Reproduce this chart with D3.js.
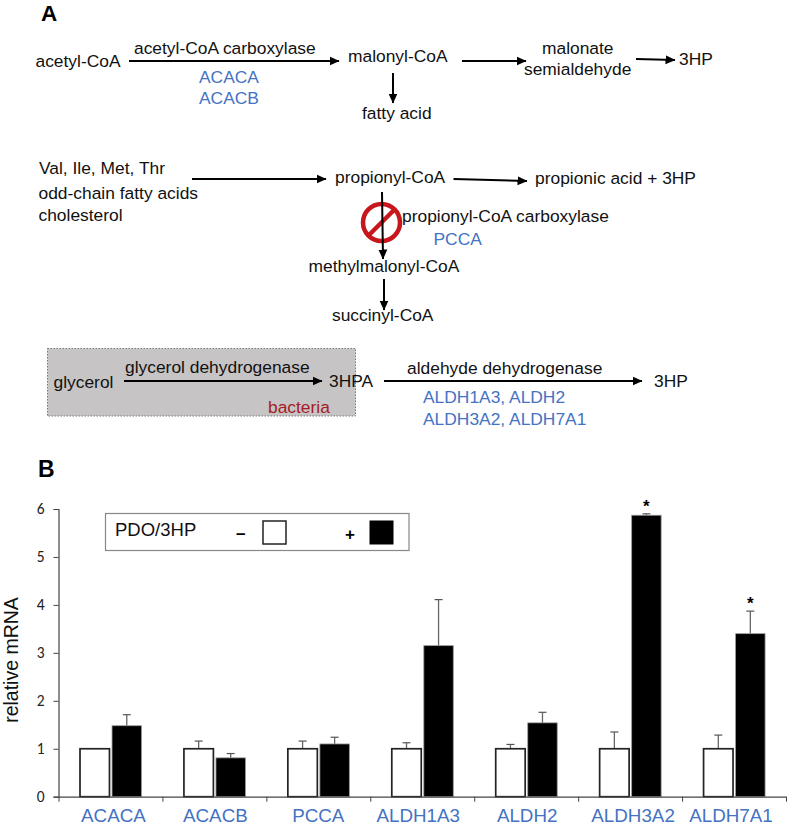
<!DOCTYPE html>
<html>
<head>
<meta charset="utf-8">
<script src="https://cdn.jsdelivr.net/npm/d3@7"></script>
<style>
body { margin: 0; background: #fff; }
svg { display: block; }
text { font-family: "Liberation Sans", Arial, sans-serif; }
</style>
</head>
<body>
<svg id="canvas" width="787" height="826"></svg>
<script>
const GENES = ["ACACA", "ACACB", "PCCA", "ALDH1A3", "ALDH2", "ALDH3A2", "ALDH7A1"];
const CONTROL = [1, 1, 1, 1, 1, 1, 1];
const CONTROL_ERR = [1, 1.16, 1.16, 1.125, 1.09, 1.35, 1.285];
const TREATED = [1.48, 0.81, 1.1, 3.15, 1.54, 5.87, 3.4];
const TREATED_ERR = [1.71, 0.9, 1.24, 4.11, 1.76, 5.9, 3.87];
const STARRED = ["ALDH3A2", "ALDH7A1"];
const Y_TICKS = [0, 1, 2, 3, 4, 5, 6];

const BLUE = "#4472c4";
const svg = d3.select("#canvas");

svg.append("defs").append("marker")
    .attr("id", "head")
    .attr("markerUnits", "userSpaceOnUse")
    .attr("viewBox", "0 0 10 10")
    .attr("refX", 9.5)
    .attr("refY", 5)
    .attr("markerWidth", 10)
    .attr("markerHeight", 10)
    .attr("orient", "auto")
  .append("path")
    .attr("d", "M0,0.5L10,5L0,9.5Z")
    .attr("fill", "#000");

function label(x, y, str, color, size) {
    return svg.append("text")
        .attr("x", x)
        .attr("y", y)
        .attr("fill", color || "#111")
        .attr("font-size", size || 17.4)
        .text(str);
}

function arrow(x1, y1, x2, y2) {
    svg.append("line")
        .attr("x1", x1).attr("y1", y1)
        .attr("x2", x2).attr("y2", y2)
        .attr("stroke", "#000")
        .attr("stroke-width", 2)
        .attr("marker-end", "url(#head)");
}

// panel A, the box goes first so the labels sit on it
svg.append("rect")
    .attr("x", 47.5).attr("y", 348.5)
    .attr("width", 308).attr("height", 67.5)
    .attr("fill", "#c6c4c5")
    .attr("stroke", "#777")
    .attr("stroke-dasharray", "1.5 1.5");

label(41, 20.5, "A", "#000", 22.5).attr("font-weight", "bold");
label(38, 477, "B", "#000", 23).attr("font-weight", "bold");

label(35.5, 67, "acetyl-CoA");
label(134, 54, "acetyl-CoA carboxylase");
label(199, 83, "ACACA", BLUE);
label(199, 104, "ACACB", BLUE);
label(348, 62, "malonyl-CoA");
label(362, 119, "fatty acid");
label(542, 54, "malonate");
label(524, 75, "semialdehyde");
label(679, 65, "3HP");

label(39, 174, "Val, Ile, Met, Thr");
label(38.5, 199, "odd-chain fatty acids");
label(38.5, 221, "cholesterol");
label(335, 183, "propionyl-CoA");
label(535, 184, "propionic acid + 3HP");
label(402, 222, "propionyl-CoA carboxylase");
label(433.5, 245, "PCCA", BLUE);
label(308.5, 272, "methylmalonyl-CoA");
label(332, 321, "succinyl-CoA");

label(53.5, 388, "glycerol");
label(125, 373, "glycerol dehydrogenase");
label(329, 387, "3HPA");
label(268, 413, "bacteria", "#a51c24");
label(407, 374, "aldehyde dehydrogenase");
label(654, 387, "3HP");
label(423, 403, "ALDH1A3, ALDH2", BLUE);
label(423, 425, "ALDH3A2, ALDH7A1", BLUE);

// no-entry sign sits under the arrow
svg.append("circle")
    .attr("cx", 381.5).attr("cy", 222.5)
    .attr("r", 18.5)
    .attr("fill", "none")
    .attr("stroke", "#c8161d")
    .attr("stroke-width", 4.5);
svg.append("line")
    .attr("x1", 368.5).attr("y1", 235.5)
    .attr("x2", 394.5).attr("y2", 209.5)
    .attr("stroke", "#c8161d")
    .attr("stroke-width", 4.5);

arrow(129, 61, 339, 61);
arrow(393, 73, 393, 103);
arrow(462, 61, 526, 61);
arrow(636, 59, 675, 60);
arrow(192, 179, 326, 179);
arrow(453.5, 179, 527, 181);
arrow(382, 192, 383, 259);
arrow(384, 279, 384, 310);
arrow(124, 381, 322, 381);
arrow(384, 381, 642, 381);

// panel B
const scaleY = d3.scaleLinear()
    .domain([0, 6])
    .range([796.7, 509]);

const scaleX = d3.scaleBand()
    .domain(GENES)
    .range([58.5, 786]);

const scaleSide = d3.scaleBand()
    .domain(["control", "treated"])
    .range([21.5, 83])
    .paddingInner(0.08);

const rows = GENES.map((gene, i) => ({
    gene: gene,
    control: CONTROL[i],
    controlErr: CONTROL_ERR[i],
    treated: TREATED[i],
    treatedErr: TREATED_ERR[i]
}));

const groups = svg.selectAll(".gene")
    .data(rows)
.enter()
    .append("g")
    .attr("class", "gene")
    .attr("transform", d => `translate(${scaleX(d.gene)},0)`);

function errorBar(side, key, base) {
    const cx = scaleSide(side) + scaleSide.bandwidth() / 2;
    const bars = groups.append("g");
    bars.append("line")
        .attr("x1", cx).attr("x2", cx)
        .attr("y1", d => scaleY(d[base]))
        .attr("y2", d => scaleY(d[key]))
        .attr("stroke", "#666")
        .attr("stroke-width", 1.3);
    bars.append("line")
        .attr("x1", cx - 4).attr("x2", cx + 4)
        .attr("y1", d => scaleY(d[key]))
        .attr("y2", d => scaleY(d[key]))
        .attr("stroke", "#555")
        .attr("stroke-width", 1.2);
}

errorBar("control", "controlErr", "control");
errorBar("treated", "treatedErr", "treated");

groups.append("rect")
    .attr("x", scaleSide("control"))
    .attr("y", d => scaleY(d.control))
    .attr("width", scaleSide.bandwidth())
    .attr("height", d => scaleY(0) - scaleY(d.control))
    .attr("fill", "#fff")
    .attr("stroke", "#222")
    .attr("stroke-width", 1.7);

groups.append("rect")
    .attr("x", scaleSide("treated"))
    .attr("y", d => scaleY(d.treated))
    .attr("width", scaleSide.bandwidth())
    .attr("height", d => scaleY(0) - scaleY(d.treated))
    .attr("fill", "#000")
    .attr("stroke", "#999")
    .attr("stroke-width", 0.8);

groups.filter(d => STARRED.includes(d.gene))
    .append("text")
    .attr("x", scaleSide("treated") + scaleSide.bandwidth() / 2)
    .attr("y", d => scaleY(d.treatedErr) - 2)
    .attr("text-anchor", "middle")
    .attr("font-size", 17)
    .attr("font-weight", "bold")
    .text("*");

const axisY = d3.axisLeft(scaleY)
    .tickValues(Y_TICKS)
    .tickSize(5)
    .tickPadding(9)
    .tickFormat(d3.format("d"));

const gy = svg.append("g")
    .attr("transform", "translate(58.5,0)")
    .call(axisY);
gy.select(".domain").attr("stroke", "#444").attr("stroke-width", 1.2);
gy.selectAll(".tick line").attr("stroke", "#444");
gy.selectAll("text")
    .attr("fill", "#222")
    .attr("font-size", 15.5)
    .style("font-family", "Carlito, Lato, sans-serif");

// ticks between the genes, so a plain index scale instead of the band one
const scaleEdges = d3.scaleLinear()
    .domain([0, GENES.length])
    .range(scaleX.range());

const gx = svg.append("g")
    .attr("transform", `translate(0,${scaleY(0)})`)
    .call(d3.axisBottom(scaleEdges)
        .ticks(GENES.length)
        .tickSize(5)
        .tickSizeOuter(0)
        .tickFormat(""));
gx.select(".domain").attr("stroke", "#444").attr("stroke-width", 1.2);
gx.selectAll(".tick line").attr("stroke", "#444");

const labelShift = [3, 1, 0, -4, 1, 3, -3];

svg.selectAll(".gene-label")
    .data(GENES)
.enter()
    .append("text")
    .attr("class", "gene-label")
    .attr("x", (d, i) => scaleX(d) + scaleX.bandwidth() / 2 + labelShift[i])
    .attr("y", 821.5)
    .attr("text-anchor", "middle")
    .attr("fill", BLUE)
    .attr("font-size", 18.8)
    .text(d => d);

svg.append("text")
    .attr("transform", "translate(18,660) rotate(-90)")
    .attr("text-anchor", "middle")
    .attr("fill", "#111")
    .attr("font-size", 19.5)
    .text("relative mRNA");

// legend
svg.append("rect")
    .attr("x", 105.5).attr("y", 513.5)
    .attr("width", 303.5).attr("height", 37)
    .attr("fill", "#fff")
    .attr("stroke", "#888")
    .attr("stroke-width", 1.2);
label(115, 536, "PDO/3HP", "#111", 18.5);
label(236, 539, "–", "#000", 17).attr("font-weight", "bold");
label(345, 540, "+", "#000", 17).attr("font-weight", "bold");
svg.append("rect")
    .attr("x", 263).attr("y", 521)
    .attr("width", 23).attr("height", 23)
    .attr("fill", "#fff")
    .attr("stroke", "#222")
    .attr("stroke-width", 1.5);
svg.append("rect")
    .attr("x", 369.5).attr("y", 520.5)
    .attr("width", 24).attr("height", 24)
    .attr("fill", "#000");
</script>
</body>
</html>
